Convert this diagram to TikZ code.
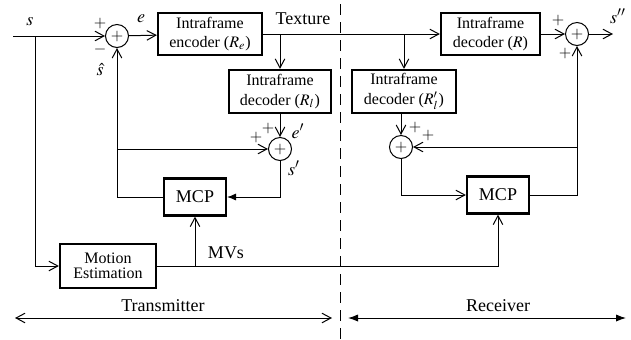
\documentclass[tikz,border=0pt]{standalone}
\usepackage{mathptmx}
\usepackage{fontspec}
\setmainfont{Liberation Serif}
\usetikzlibrary{arrows.meta}

\begin{document}
\begin{tikzpicture}[x=0.5pt,y=-0.5pt,
  font=\fontsize{9}{10}\selectfont,
  thinline/.style={line width=0.5pt},
  flow/.style={thinline,-{Straight Barb[length=4.5pt,width=4.8pt,line width=0.5pt]}},
  solidflow/.style={thinline,-{Latex[length=4.5pt,width=3.6pt]}},
  block/.style={draw,line width=1.1pt,align=center,inner sep=0pt,
    font=\fontsize{8}{9.6}\selectfont},
  sumnode/.style={draw,circle,thinline,minimum size=11.5pt,inner sep=0pt,
    font=\fontsize{8}{8}\selectfont},
  sign/.style={inner sep=0pt,font=\fontsize{8}{8}\selectfont},
  lbl/.style={inner sep=0pt}]

\useasboundingbox (0,0) rectangle (631,339);

% ---- transmitter ----
\node[sumnode] (s1) at (117,36) {$+$};
\node[block,minimum width=52pt,minimum height=21pt] (enc) at (210,34)
  {Intraframe\\encoder ($R_e$)};
\node[block,minimum width=51pt,minimum height=21.5pt] (decl) at (280,91.5)
  {Intraframe\\decoder ($R_l$)};
\node[sumnode] (s2) at (280,149) {$+$};
\node[block,minimum width=31pt,minimum height=18.5pt,font=\fontsize{9}{10}\selectfont]
  (mcp1) at (195,197) {MCP};
\node[block,minimum width=48pt,minimum height=22pt,font=\fontsize{8}{8.6}\selectfont]
  (me) at (108,266) {Motion\\[-1pt]Estimation};

% ---- receiver ----
\node[block,minimum width=49.5pt,minimum height=21pt] (decR) at (490.5,34)
  {Intraframe\\decoder ($R$)};
\node[sumnode] (s3) at (577,34) {$+$};
\node[block,minimum width=52pt,minimum height=21.5pt] (decl2) at (404,91.5)
  {Intraframe\\decoder ($R'_l$)};
\node[sumnode] (s4) at (401,147) {$+$};
\node[block,minimum width=31pt,minimum height=18.5pt,font=\fontsize{9}{10}\selectfont]
  (mcp2) at (498,195) {MCP};

% ---- junction and end points ----
\coordinate (in)  at (13,36);
\coordinate (ib)  at (35,36);
\coordinate (out) at (613,34);
\coordinate (tb1) at (decl.north |- enc.east);
\coordinate (tb2) at (decl2.north |- enc.east);
\coordinate (fb)  at (s1 |- s2);
\coordinate (mv)  at (me.east -| mcp1.south);
\coordinate (rb)  at (s3 |- s4);

% ---- transmitter connectors ----
\draw[flow] (in) -- (s1);
\draw[flow] (s1) -- (enc);
\draw[flow] (enc.east) -- (decR.west);
\draw[flow] (tb1) -- (decl.north);
\draw[flow] (decl) -- (s2);
\draw[solidflow] (s2.south) |- (mcp1.east);
\draw[flow] (mcp1.west) -| (s1.south);
\draw[flow] (fb) -- (s2.west);
\draw[flow] (ib) |- (me.west);
\draw[flow] (me.east) -| (mcp2.south);
\draw[flow] (mv) -- (mcp1.south);

% ---- receiver connectors ----
\draw[flow] (tb2) -- (decl2.north);
\draw[flow] (decR) -- (s3);
\draw[flow] (s3) -- (out);
\draw[flow] (decl2.south -| s4) -- (s4);
\draw[flow] (s4.south) |- (mcp2.west);
\draw[flow] (mcp2.east) -| (s3.south);
\draw[flow] (rb) -- (s4.east);

% ---- signal labels ----
\node[lbl] (ls)  at (30,22)  {$s$};
\node[sign] (p1) at (100,23) {$+$};
\node[sign] (m1) at (100,49) {$-$};
\node[lbl] (lsh) at (100,70) {$\hat{s}$};
\node[lbl] (le)  at (141,19) {$e$};
\node[lbl] (ltx) at (303,19) {Texture};
\node[sign] (p2a) at (268,128) {$+$};
\node[sign] (p2b) at (256,137) {$+$};
\node[lbl] (lep) at (298,131) {$e'$};
\node[lbl] (lsp) at (294,168) {$s'$};
\node[lbl] (lmv) at (226,253) {MVs};
\node[sign] (p3a) at (558,20) {$+$};
\node[sign] (p3b) at (565,53) {$+$};
\node[lbl] (lspp) at (618,16) {$s''$};
\node[sign] (p4a) at (415,127) {$+$};
\node[sign] (p4b) at (428,135) {$+$};

% ---- transmitter / receiver split ----
\coordinate (dtop) at (340,4);
\coordinate (dbot) at (340,339);
\draw[thinline,dash pattern=on 5.5pt off 3.5pt] (dtop) -- (dbot);

\coordinate (t1) at (15,318);
\coordinate (t2) at (332,318);
\coordinate (r1) at (348,318);
\coordinate (r2) at (626,318);
\draw[thinline,{Straight Barb[length=4.5pt,width=4.8pt,line width=0.5pt]}-{Straight Barb[length=4.5pt,width=4.8pt,line width=0.5pt]}] (t1) -- (t2);
\draw[thinline,{Latex[length=5pt,width=3.6pt]}-{Latex[length=5pt,width=3.6pt]}] (r1) -- (r2);
\node[lbl] (ltr) at (163,306) {Transmitter};
\node[lbl] (lrc) at (498,306) {Receiver};

\end{tikzpicture}
\end{document}
